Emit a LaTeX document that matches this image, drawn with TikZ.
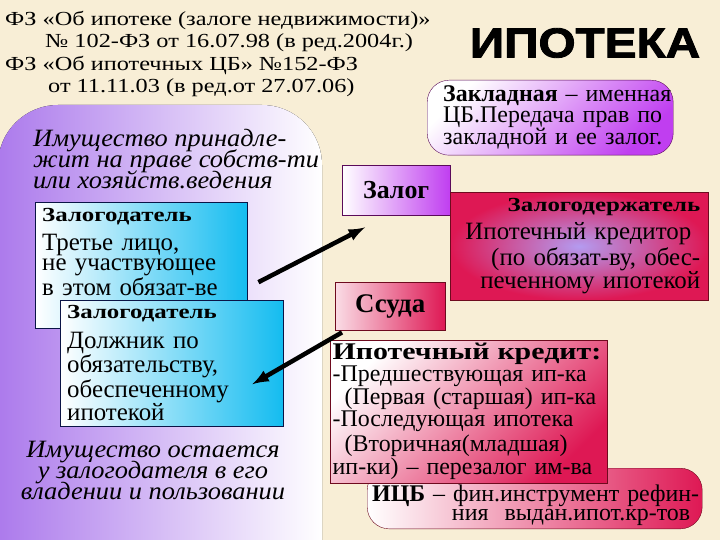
\documentclass[tikz,border=0pt]{standalone}
\usepackage{fontspec}
\setmainfont{Liberation Serif}
\newfontfamily\lawfont[FakeStretch=1.22]{Liberation Serif}
\newfontfamily\widefont[FakeStretch=1.25]{Liberation Serif}
\newfontfamily\notefont[FakeStretch=1.06]{Liberation Serif}
\newfontfamily\headfont[BoldFeatures={FakeBold=2}]{Liberation Sans}
\definecolor{paper}{RGB}{248,238,214}
\definecolor{lilac}{RGB}{172,122,236}
\definecolor{skyblue}{RGB}{20,188,240}
\definecolor{violetx}{RGB}{192,62,240}
\definecolor{crimson}{RGB}{222,24,84}
\definecolor{lavender}{RGB}{180,155,240}
\definecolor{navy}{RGB}{10,20,70}
\definecolor{plum}{RGB}{90,10,90}
\definecolor{wine}{RGB}{110,10,30}
\lineskiplimit=-50pt
\begin{document}
\begin{tikzpicture}[x=1bp, y=-1bp]
    % Define styles
    \tikzset{
        lawtext/.style={anchor=north west, inner sep=0pt, align=left, font=\lawfont\fontsize{20}{22.5}\selectfont},
        notetext/.style={inner sep=0pt, font=\notefont\itshape\fontsize{25}{21}\selectfont},
        partybox/.style={draw=navy, left color=white, right color=skyblue, anchor=north west, align=left, inner xsep=7bp, inner ysep=3bp, minimum height=126bp, font=\fontsize{25}{20.5}\selectfont},
        pledgebox/.style={draw=plum, left color=white, right color=violetx, anchor=north west, minimum width=108bp, minimum height=50bp, font=\bfseries\fontsize{26}{26}\selectfont},
        loanbox/.style={draw=wine, left color=white!85!crimson, right color=crimson, anchor=north west, minimum width=110bp, minimum height=48bp, font=\bfseries\fontsize{27}{27}\selectfont},
        holderbox/.style={draw=wine, inner color=lavender, outer color=crimson, anchor=north west, minimum height=108bp, text width=242bp, inner xsep=8bp, align=right, font=\fontsize{25}{22}\selectfont},
        creditbox/.style={draw=wine, top color=white, bottom color=crimson, shading angle=45, anchor=north west, minimum height=138bp, text width=272bp, inner xsep=2.5bp, align=left, font=\fontsize{24}{20.5}\selectfont},
        bondbox/.style={draw=wine, left color=white, right color=crimson, rounded corners=22bp, anchor=north west, minimum height=60bp, text width=329bp, inner xsep=3bp, align=right, font=\fontsize{24}{19}\selectfont},
        deedbox/.style={draw=plum, top color=white, bottom color=violetx, shading angle=45, rounded corners=22bp, anchor=north west, minimum height=75bp, text width=214bp, inner xsep=16bp, align=left, font=\fontsize{24}{18.5}\selectfont},
        thickarrow/.style={->, >=latex, line width=4.5bp}
    }
    \useasboundingbox (0,0) rectangle (720,540);
    \clip (0,0) rectangle (720,540);

    % Background
    \fill[paper] (0,0) rectangle (720,540);
    \fill[left color=lilac, right color=white, rounded corners=60bp] (-2,105) rectangle (322,600);

    % Laws and title
    \node[lawtext] (law) at (5,11) {ФЗ «Об ипотеке (залоге недвижимости)»\\\hspace*{40bp}№ 102-ФЗ от 16.07.98 (в ред.2004г.)\\ФЗ «Об ипотечных ЦБ» №152-ФЗ\\\hspace*{43bp}от 11.11.03 (в ред.от 27.07.06)};
    \node[inner sep=0pt, font=\headfont\bfseries\fontsize{42}{42}\selectfont] (title) at (585,43) {\scalebox{1.14}[1]{ИПОТЕКА}};

    % Mortgage deed
    \node[deedbox] (deed) at (427,80) {\mbox{\textbf{Закладная} – именная}\\\mbox{ЦБ.Передача прав по}\\\mbox{закладной и ее залог.}};

    % Property notes
    \node[notetext, anchor=north west, align=left] (own) at (33,129) {Имущество принадле-\\жит на праве собств-ти\\или хозяйств.ведения};
    \node[notetext, anchor=north, align=center] (keep) at (153,441) {Имущество остается\\ у залогодателя в его\\владении и пользовании};

    % Pledgers
    \node[partybox, text width=198bp] (giver1) at (35,202) {{\widefont\bfseries\fontsize{20}{20}\selectfont Залогодатель}\\[9bp]Третье лицо,\\не участвующее\\в этом обязат-ве\\[7bp]\mbox{}};
    \node[partybox, text width=209bp] (giver2) at (60,300) {{\widefont\bfseries\fontsize{20}{20}\selectfont Залогодатель}\\[9.5bp]Должник по\\обязательству,\\обеспеченному\\ипотекой};

    % Pledge, loan and pledgee
    \node[pledgebox] (pledge) at (342,165) {Залог};
    \node[loanbox] (loan) at (335,282) {Ссуда};
    \node[holderbox] (holder) at (450,192) {{\widefont\bfseries\fontsize{20}{20}\selectfont Залогодержатель}\\[6bp]\mbox{Ипотечный кредитор\hspace{9bp}}\\[2bp](по обязат-ву, обес-\\печенному ипотекой};

    % Mortgage securities and credit
    \node[bondbox] (icb) at (367,468) {\rule{0pt}{30bp}\textbf{ИЦБ} – фин.инструмент рефин-\\\mbox{ния\ \ выдан.ипот.кр-тов\hspace{9bp}}};
    \node[creditbox] (credit) at (330,340) {{\widefont\bfseries Ипотечный кредит:}\\-Предшествующая ип-ка\\\hspace*{12bp}(Первая (старшая) ип-ка\\-Последующая ипотека\\[3bp]\hspace*{12bp}(Вторичная(младшая)\\ип-ки) – перезалог им-ва};

    % Arrows
    \draw[thickarrow] ([shift={(11,17)}]giver1.east) -- ([shift={(23,12)}]pledge.south west);
    \draw[thickarrow] ([shift={(7,2)}]loan.south west) -- ([shift={(-31,21)}]giver2.east);
\end{tikzpicture}
\end{document}
